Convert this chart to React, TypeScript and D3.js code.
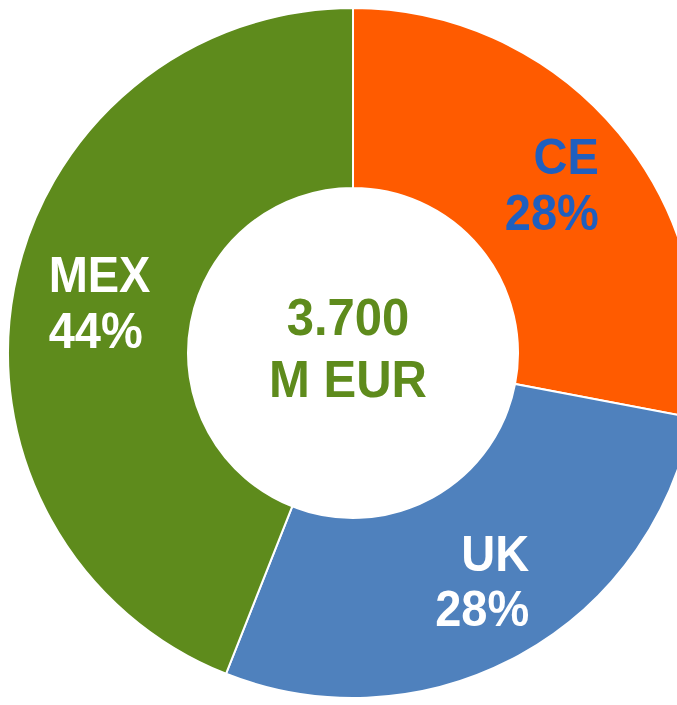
import React from "react";
import * as d3 from "d3";

const regions = ["CE", "UK", "MEX"];
const shares = [28, 28, 44];
const colors = ["#FF5B00", "#4F81BD", "#5E8B1C"];
const labelColors = ["#1F5FBF", "#FFFFFF", "#FFFFFF"];
const totalLines = ["3.700", "M EUR"];

export default function App() {
  const W = 677, H = 705;
  const cx = 353, cy = 353;
  const outerR = 345, innerR = 165;
  const pie = d3.pie<number>().value((d) => d).sort(null);
  const arcs = pie(shares);
  const arc = d3.arc<d3.PieArcDatum<number>>().innerRadius(innerR).outerRadius(outerR);
  const labelArc = d3.arc<d3.PieArcDatum<number>>().innerRadius(262).outerRadius(262);
  const font = "'Liberation Sans', Arial, sans-serif";
  return (
    <svg width={W} height={H} style={{ position: "absolute", left: 0, top: 0, background: "#fff" }}>
      <g transform={`translate(${cx},${cy})`}>
        {arcs.map((a, i) => (
          <path key={regions[i]} d={arc(a) || ""} fill={colors[i]} stroke="#fff" strokeWidth={2} />
        ))}
        {arcs.map((a, i) => {
          const [x, y] = labelArc.centroid(a);
          const right = x > 0;
          const tx = right ? x + 44 + (y > 0 ? 6 : 0) : x - 47;
          return (
            <g key={"l" + i} transform={`translate(${tx},${y}) scale(1,1.07)`}>
              <text textAnchor={right ? "end" : "start"} fill={labelColors[i]}
                fontFamily={font} fontWeight="bold" fontSize={47}>
                <tspan x={0} y={-11}>{regions[i]}</tspan>
                <tspan x={0} y={41}>{shares[i]}%</tspan>
              </text>
            </g>
          );
        })}
        <g transform="translate(-5,0) scale(1,1.05)">
          <text textAnchor="middle" fill="#5E8B1C" fontFamily={font} fontWeight="bold" fontSize={49}>
            <tspan x={0} y={-17}>{totalLines[0]}</tspan>
            <tspan x={0} y={42}>{totalLines[1]}</tspan>
          </text>
        </g>
      </g>
    </svg>
  );
}
